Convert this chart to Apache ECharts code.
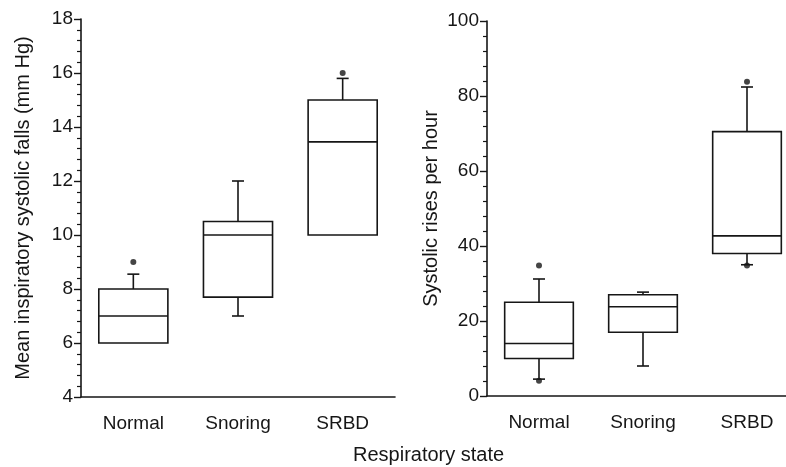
<!DOCTYPE html>
<html>
<head>
<meta charset="utf-8">
<script src="https://cdn.jsdelivr.net/npm/echarts@6/dist/echarts.min.js"></script>
<style>
  html, body { margin: 0; padding: 0; background: #fff; overflow: hidden; }
  #main { width: 802px; height: 467px; }
</style>
</head>
<body>
<div id="main"></div>
<script>
var categories = ['Normal', 'Snoring', 'SRBD'];

// each row: [low whisker, q1, median, q3, high whisker]
var fallsBoxes = [
    [6, 6, 7, 8, 8.55],
    [7, 7.7, 10, 10.5, 12],
    [10, 10, 13.45, 15, 15.8]
];
var fallsOutliers = [[0, 9], [2, 16]];

var risesBoxes = [
    [4.5, 10, 14, 25, 31.2],
    [8, 17, 23.8, 27, 27.7],
    [35, 38, 42.7, 70.5, 82.4]
];
var risesOutliers = [[0, 34.8], [0, 4.1], [2, 83.8], [2, 34.8]];

var fallsTicks = [4, 18, 2];   // min, max, interval
var risesTicks = [0, 100, 20];

var dom = document.getElementById('main');
var myChart = echarts.init(dom);
var ink = '#161616';
var font = 'Liberation Sans, Arial, sans-serif';

function renderBox(params, api) {
    var i = api.value(0);
    var lo = api.coord([i, api.value(1)]);
    var q1 = api.coord([i, api.value(2)]);
    var md = api.coord([i, api.value(3)]);
    var q3 = api.coord([i, api.value(4)]);
    var hi = api.coord([i, api.value(5)]);
    var bw = api.size([1, 0])[0] * 0.66;
    var cx = q1[0];
    var cap = 6;
    var line = { stroke: ink, lineWidth: 1.6 };
    var kids = [
        { type: 'rect', shape: { x: cx - bw / 2, y: q3[1], width: bw, height: q1[1] - q3[1] },
          style: { fill: '#fff', stroke: ink, lineWidth: 1.6 } },
        { type: 'line', shape: { x1: cx - bw / 2, y1: md[1], x2: cx + bw / 2, y2: md[1] }, style: line }
    ];
    if (hi[1] < q3[1] - 0.5) {
        kids.push({ type: 'line', shape: { x1: cx, y1: q3[1], x2: cx, y2: hi[1] }, style: line });
        kids.push({ type: 'line', shape: { x1: cx - cap, y1: hi[1], x2: cx + cap, y2: hi[1] }, style: line });
    }
    if (lo[1] > q1[1] + 0.5) {
        kids.push({ type: 'line', shape: { x1: cx, y1: q1[1], x2: cx, y2: lo[1] }, style: line });
        kids.push({ type: 'line', shape: { x1: cx - cap, y1: lo[1], x2: cx + cap, y2: lo[1] }, style: line });
    }
    return { type: 'group', children: kids };
}

function catAxis(idx) {
    return {
        type: 'category', gridIndex: idx, data: categories, boundaryGap: true,
        axisLine: { lineStyle: { color: ink, width: 1.6 } },
        axisTick: { alignWithLabel: true, length: 7, lineStyle: { color: ink, width: 1.4 } },
        axisLabel: { color: ink, fontSize: 19, fontFamily: font, margin: 17 },
        splitLine: { show: false }
    };
}

function valAxis(idx, t, name, gap) {
    return {
        type: 'value', gridIndex: idx, min: t[0], max: t[1], interval: t[2],
        name: name, nameLocation: 'middle', nameGap: gap, nameRotate: 90,
        nameTextStyle: { color: ink, fontSize: 20, fontFamily: font },
        axisLine: { show: true, lineStyle: { color: ink, width: 1.6 } },
        axisTick: { show: true, length: 7, lineStyle: { color: ink, width: 1.4 } },
        minorTick: { show: true, splitNumber: 5, length: 4, lineStyle: { color: ink, width: 1.2 } },
        axisLabel: { color: ink, fontSize: 19, fontFamily: font, margin: 8 },
        splitLine: { show: false }
    };
}

var option = {
    backgroundColor: '#fff',
    animation: false,
    grid: [
        { left: 81, top: 19, width: 314, height: 378 },
        { left: 487, top: 21, width: 312, height: 375 }
    ],
    xAxis: [catAxis(0), catAxis(1)],
    yAxis: [
        valAxis(0, fallsTicks, 'Mean inspiratory systolic falls (mm Hg)', 48),
        valAxis(1, risesTicks, 'Systolic rises per hour', 46)
    ],
    graphic: [{
        type: 'text', left: 353, top: 445,
        style: { text: 'Respiratory state', fill: ink, fontSize: 20, fontFamily: font }
    }],
    series: [
        {
            type: 'custom', xAxisIndex: 0, yAxisIndex: 0, renderItem: renderBox,
            encode: { x: 0, y: [1, 2, 3, 4, 5] },
            data: fallsBoxes.map(function (d, i) { return [i].concat(d); })
        },
        {
            type: 'custom', xAxisIndex: 1, yAxisIndex: 1, renderItem: renderBox,
            encode: { x: 0, y: [1, 2, 3, 4, 5] },
            data: risesBoxes.map(function (d, i) { return [i].concat(d); })
        },
        {
            type: 'scatter', xAxisIndex: 0, yAxisIndex: 0, symbolSize: 6, z: 5,
            itemStyle: { color: ink }, data: fallsOutliers
        },
        {
            type: 'scatter', xAxisIndex: 1, yAxisIndex: 1, symbolSize: 6, z: 5,
            itemStyle: { color: ink }, data: risesOutliers
        }
    ]
};

myChart.setOption(option);
</script>
</body>
</html>
